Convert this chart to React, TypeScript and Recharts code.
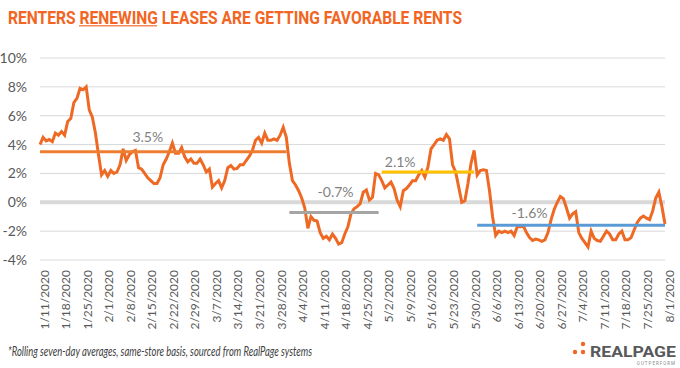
import { CartesianGrid, Line, LineChart, ReferenceLine, XAxis, YAxis } from 'recharts';

// daily rolling 7-day change in renewal rents, 1/11/2020 .. 8/1/2020
const renewalChange = [
  4.0, 4.5, 4.25, 4.35, 4.2, 4.8, 4.65, 4.9, 4.65, 5.6,
  5.8, 6.9, 7.2, 7.9, 7.8, 8.0, 6.4, 5.9, 4.8, 3.3,
  1.9, 2.2, 1.8, 2.2, 2.0, 2.1, 2.6, 3.7, 2.9, 3.3,
  3.5, 3.6, 2.4, 2.3, 2.0, 1.7, 1.5, 1.3, 1.3, 1.7,
  2.6, 3.0, 3.5, 4.1, 3.4, 3.4, 3.8, 3.15, 2.8, 3.0,
  2.7, 2.7, 3.0, 2.6, 2.1, 2.3, 1.05, 1.3, 1.5, 1.0,
  1.5, 2.4, 2.55, 2.3, 2.35, 2.6, 2.6, 2.9, 3.2, 3.6,
  4.3, 4.5, 4.1, 4.8, 4.3, 4.3, 4.4, 4.3, 4.65, 5.2,
  4.5, 2.7, 1.5, 1.2, 0.8, 0.3, -0.4, -1.8, -1.0, -1.25,
  -1.3, -2.1, -2.5, -2.35, -2.6, -2.2, -2.5, -2.9, -2.8, -2.2,
  -1.7, -0.8, -0.45, -0.3, -0.1, 0.7, 0.85, 0.15, 0.35, 2.0,
  1.9, 1.5, 1.0, 1.2, 1.4, 0.95, 0.15, -0.3, 0.8, 0.95,
  1.2, 1.5, 1.5, 1.9, 2.2, 1.75, 2.45, 3.7, 4.0, 4.3,
  4.4, 4.3, 4.7, 4.4, 2.6, 2.1, 1.05, 0.0, 0.1, 1.3,
  2.7, 3.6, 1.9, 2.2, 2.25, 2.2, 0.8, -1.0, -2.3, -2.0,
  -2.1, -2.0, -2.1, -2.0, -2.3, -1.7, -1.7, -1.65, -2.1, -2.45,
  -2.65, -2.55, -2.6, -2.7, -2.6, -2.1, -1.2, -0.5, 0.0, 0.4,
  0.25, -0.4, -1.1, -0.8, -0.65, -2.1, -2.5, -2.8, -3.1, -2.0,
  -2.5, -2.65, -2.7, -2.35, -2.0, -2.2, -2.6, -2.6, -2.2, -2.0,
  -2.6, -2.6, -2.45, -1.9, -1.4, -1.1, -0.95, -1.1, -1.2, -0.6,
  0.3, 0.7, -0.3, -1.5,
];

// period averages (first/last day index of each period)
const periodAvg = [3.5, -0.7, 2.1, -1.6];
const periodFrom = [0, 81, 111, 142];
const periodTo = [80, 110, 141, 203];
const periodLabels = ['3.5%', '-0.7%', '2.1%', '-1.6%'];
const periodColors = ['#ED7D31', '#A5A5A5', '#FFC000', '#5B9BD5'];
// where each label sits: day index and lift above the line
const labelDay = [35, 96, 117, 159];
const labelLift = [10, 15, 5, 7];

const yTicks = [-4, -2, 0, 2, 4, 6, 8, 10];

const start = new Date(2020, 0, 11);
const dates = renewalChange.map((_, i) => {
  const d = new Date(start.getFullYear(), start.getMonth(), start.getDate() + i);
  return `${d.getMonth() + 1}/${d.getDate()}/${d.getFullYear()}`;
});

const data = dates.map((date, i) => {
  const row: Record<string, string | number | null> = { date, value: renewalChange[i] };
  periodAvg.forEach((v, k) => {
    row[`avg${k}`] = i >= periodFrom[k] && i <= periodTo[k] ? v : null;
  });
  return row;
});

const FONT = 'Lato, "Open Sans", sans-serif';
const ORANGE = '#F26522';

function avgLabel(k: number) {
  return (props: any) => {
    const { x, y, index } = props;
    if (index !== labelDay[k]) return <g key={`l${k}-${index}`} />;
    return (
      <text key={`l${k}`} x={x} y={y - labelLift[k]} textAnchor="middle" fill="#7F7F7F" fontSize={14} fontFamily={FONT}>
        {periodLabels[k]}
      </text>
    );
  };
}

export default function App() {
  return (
    <div style={{ position: 'absolute', left: 0, top: 0, width: 680, height: 368, background: '#fff', fontFamily: FONT }}>
      <svg width={680} height={40} style={{ position: 'absolute', left: 0, top: 0 }}>
        <text x={8} y={24} textLength={454} lengthAdjust="spacingAndGlyphs" fill={ORANGE} fontSize={19} fontWeight={700} fontFamily="Roboto, sans-serif">
          RENTERS RENEWING LEASES ARE GETTING FAVORABLE RENTS
        </text>
        <line x1={79} x2={157} y1={25.8} y2={25.8} stroke="#F4895A" strokeWidth={1.6} />
      </svg>
      <div style={{ position: 'absolute', left: 0, top: 0 }}>
        <LineChart width={680} height={330} data={data} margin={{ top: 58, right: 15, left: 0, bottom: 0 }}>
          <CartesianGrid vertical={false} stroke="#D9D9D9" />
          <XAxis
            dataKey="date"
            interval={6}
            angle={-90}
            textAnchor="end"
            height={70}
            axisLine={false}
            tickLine={false}
            tick={{ fill: '#595959', fontSize: 12, fontFamily: FONT }}
            tickMargin={4}
          />
          <YAxis
            domain={[-4, 10]}
            ticks={yTicks}
            width={40}
            axisLine={false}
            tickLine={false}
            tickMargin={7}
            tickFormatter={(v) => `${v}%`}
            tick={{ fill: '#595959', fontSize: 14, fontFamily: FONT }}
          />
          <ReferenceLine y={0} stroke="#D9D9D9" strokeWidth={4} />
          <Line dataKey="value" stroke="#EE6A24" strokeWidth={3} dot={false} isAnimationActive={false} />
          {periodAvg.map((_, k) => (
            <Line
              key={k}
              dataKey={`avg${k}`}
              stroke={periodColors[k]}
              strokeWidth={3}
              dot={false}
              connectNulls={false}
              label={avgLabel(k)}
              isAnimationActive={false}
            />
          ))}
        </LineChart>
      </div>
      <svg width={550} height={24} style={{ position: 'absolute', left: 0, top: 340 }}>
        <text x={8} y={16} textLength={304} lengthAdjust="spacingAndGlyphs" fontSize={12.5} fontStyle="italic" fill="#404040" fontFamily={FONT}>
          *Rolling seven-day averages, same-store basis, sourced from RealPage systems
        </text>
      </svg>
      <svg width={120} height={30} style={{ position: 'absolute', left: 560, top: 338 }}>
        <circle cx={23} cy={6} r={2.2} fill={ORANGE} />
        <circle cx={15} cy={14} r={2.2} fill={ORANGE} />
        <circle cx={23} cy={14} r={2.2} fill={ORANGE} />
        <text x={30} y={19} textLength={86} lengthAdjust="spacingAndGlyphs" fill="#58595B" fontSize={15} fontWeight={700} fontFamily="Roboto, sans-serif">
          REALPAGE
        </text>
        <text x={116} y={27} textAnchor="end" fill="#8A8A8A" fontSize={4.5} letterSpacing={1} fontFamily="Roboto, sans-serif">
          OUTPERFORM
        </text>
      </svg>
    </div>
  );
}
